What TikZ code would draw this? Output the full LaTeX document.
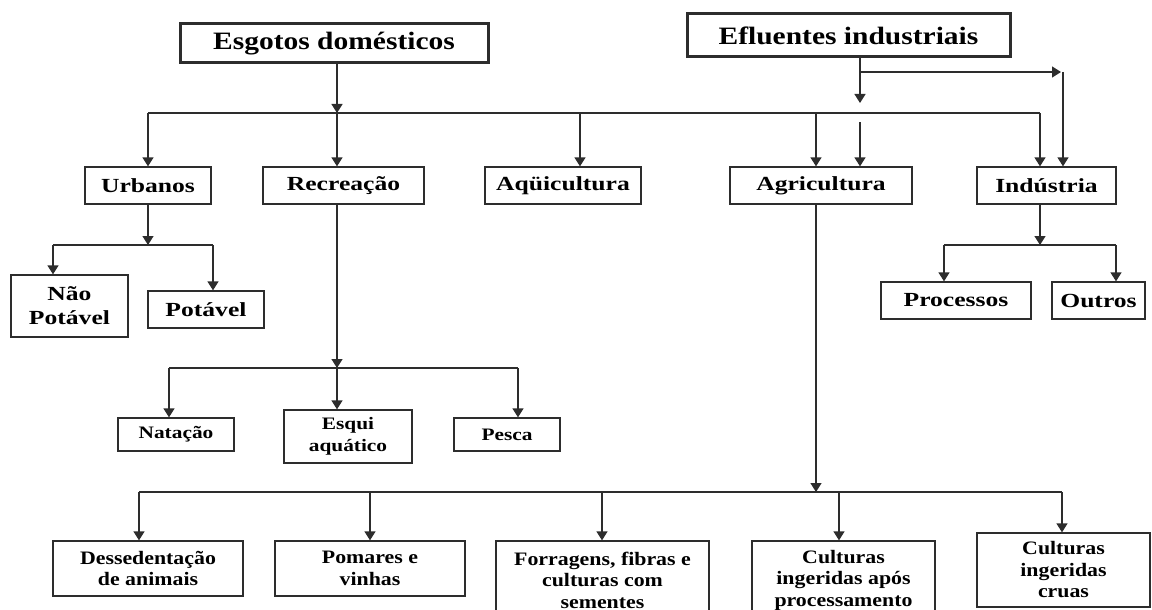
\documentclass[tikz,border=0pt]{standalone}
\usepackage{fontspec}
\usetikzlibrary{arrows.meta}
\newfontfamily\fT[FakeStretch=1.18]{Liberation Serif}
\newfontfamily\fB[FakeStretch=1.28]{Liberation Serif}
\newfontfamily\fC[FakeStretch=1.22]{Liberation Serif}
\newfontfamily\fD[FakeStretch=1.15]{Liberation Serif}
\definecolor{linec}{RGB}{45,45,45}
\tikzset{
  box/.style={draw=linec, line width=1.3pt, inner sep=0pt, align=center, text=black},
  titlebox/.style={box, line width=3pt, font=\fT\bfseries\fontsize{25}{30}\selectfont},
  lvtwo/.style={box, font=\fB\bfseries\fontsize{20}{24}\selectfont},
  lvsub/.style={box, font=\fC\bfseries\fontsize{17.5}{22}\selectfont},
  lvbot/.style={box, font=\fD\bfseries\fontsize{19}{21.5}\selectfont},
  ln/.style={draw=linec, line width=1.3pt},
  arr/.style={ln, -{Triangle[width=11pt,length=9pt]}}
}
\begin{document}
\begin{tikzpicture}[x=1pt,y=-1pt]
\useasboundingbox (0,0) rectangle (1152,610);
\clip (0,0) rectangle (1152,610);
% titles
\node[titlebox, minimum width=308pt, minimum height=39pt] (esg) at (334,43.5) {Esgotos domésticos};
\node[titlebox, minimum width=323pt, minimum height=43pt] (efl) at (848.5,35.5) {Efluentes industriais};
% level two
\node[lvtwo, minimum width=126pt, minimum height=37pt] (urb) at (148,185.5) {Urbanos};
\node[lvtwo, minimum width=161pt, minimum height=37pt] (rec) at (343.5,185.5) {Recreação};
\node[lvtwo, minimum width=156pt, minimum height=37pt] (aqu) at (563,185.5) {Aqüicultura};
\node[lvtwo, minimum width=182pt, minimum height=37pt] (agr) at (821,185.5) {Agricultura};
\node[lvtwo, minimum width=139pt, minimum height=37pt] (ind) at (1046.5,185.5) {Indústria};
% urbanos children
\node[lvtwo, minimum width=117pt, minimum height=62pt] (nao) at (69.5,306) {Não\\Potável};
\node[lvtwo, minimum width=116pt, minimum height=37pt] (pot) at (206,309.5) {Potável};
% recreacao children
\node[lvsub, minimum width=116pt, minimum height=33pt] (nat) at (176,434.5) {Natação};
\node[lvsub, minimum width=128pt, minimum height=53pt] (esq) at (348,436.5) {Esqui\\aquático};
\node[lvsub, minimum width=106pt, minimum height=33pt] (pes) at (507,434.5) {Pesca};
% industria children
\node[lvtwo, minimum width=150pt, minimum height=37pt] (pro) at (956,300.5) {Processos};
\node[lvtwo, minimum width=93pt, minimum height=37pt] (out) at (1098.5,300.5) {Outros};
% agricultura children
\node[lvbot, minimum width=190pt, minimum height=55pt] (des) at (148,568.5) {Dessedentação\\de animais};
\node[lvbot, minimum width=190pt, minimum height=55pt] (pom) at (370,568.5) {Pomares e\\vinhas};
\node[lvbot, minimum width=213pt, minimum height=78pt] (forr) at (602.5,580) {Forragens, fibras e\\culturas com\\sementes};
\node[lvbot, minimum width=183pt, minimum height=78pt] (cap) at (843.5,580) {Culturas\\ingeridas após\\processamento};
\node[lvbot, minimum width=173pt, minimum height=74pt] (cru) at (1063.5,570) {Culturas\\ingeridas\\cruas};
% ---- Esgotos bus
\coordinate (j1) at (337,113);
\coordinate (dUrb) at (148,113);
\coordinate (dAqu) at (580,113);
\coordinate (dAgr) at (816,113);
\coordinate (dInd) at (1040,113);
\draw[arr] (esg.south -| j1) -- (j1);
\draw[ln] (dUrb) -- (dInd);
\draw[arr] (dUrb) -- (dUrb |- urb.north);
\draw[arr] (j1) -- (j1 |- rec.north);
\draw[arr] (dAqu) -- (dAqu |- aqu.north);
\draw[arr] (dAgr) -- (dAgr |- agr.north);
\draw[arr] (dInd) -- (dInd |- ind.north);
% ---- Efluentes
\coordinate (e1) at (860,72);
\coordinate (e2) at (860,103);
\coordinate (e3) at (1061,72);
\coordinate (e4) at (1063,72);
\coordinate (e5) at (860,122);
\draw[arr] (efl.south -| e1) -- (e2);
\draw[arr] (e1) -- (e3);
\draw[arr] (e4) -- (e4 |- ind.north);
\draw[arr] (e5) -- (e5 |- agr.north);
% ---- Urbanos
\coordinate (u1) at (148,245);
\coordinate (uN) at (53,245);
\coordinate (uP) at (213,245);
\draw[arr] (urb.south -| u1) -- (u1);
\draw[ln] (uN) -- (uP);
\draw[arr] (uN) -- (uN |- nao.north);
\draw[arr] (uP) -- (uP |- pot.north);
% ---- Recreacao
\coordinate (r1) at (337,368);
\coordinate (rN) at (169,368);
\coordinate (rP) at (518,368);
\draw[arr] (rec.south -| r1) -- (r1);
\draw[ln] (rN) -- (rP);
\draw[arr] (rN) -- (rN |- nat.north);
\draw[arr] (r1) -- (r1 |- esq.north);
\draw[arr] (rP) -- (rP |- pes.north);
% ---- Industria
\coordinate (i1) at (1040,245);
\coordinate (iP) at (944,245);
\coordinate (iO) at (1116,245);
\draw[arr] (ind.south -| i1) -- (i1);
\draw[ln] (iP) -- (iO);
\draw[arr] (iP) -- (iP |- pro.north);
\draw[arr] (iO) -- (iO |- out.north);
% ---- Agricultura
\coordinate (a1) at (816,492);
\coordinate (aD) at (139,492);
\coordinate (aP) at (370,492);
\coordinate (aF) at (602,492);
\coordinate (aC) at (839,492);
\coordinate (aR) at (1062,492);
\draw[arr] (agr.south -| a1) -- (a1);
\draw[ln] (aD) -- (aR);
\draw[arr] (aD) -- (aD |- des.north);
\draw[arr] (aP) -- (aP |- pom.north);
\draw[arr] (aF) -- (aF |- forr.north);
\draw[arr] (aC) -- (aC |- cap.north);
\draw[arr] (aR) -- (aR |- cru.north);
\end{tikzpicture}
\end{document}
